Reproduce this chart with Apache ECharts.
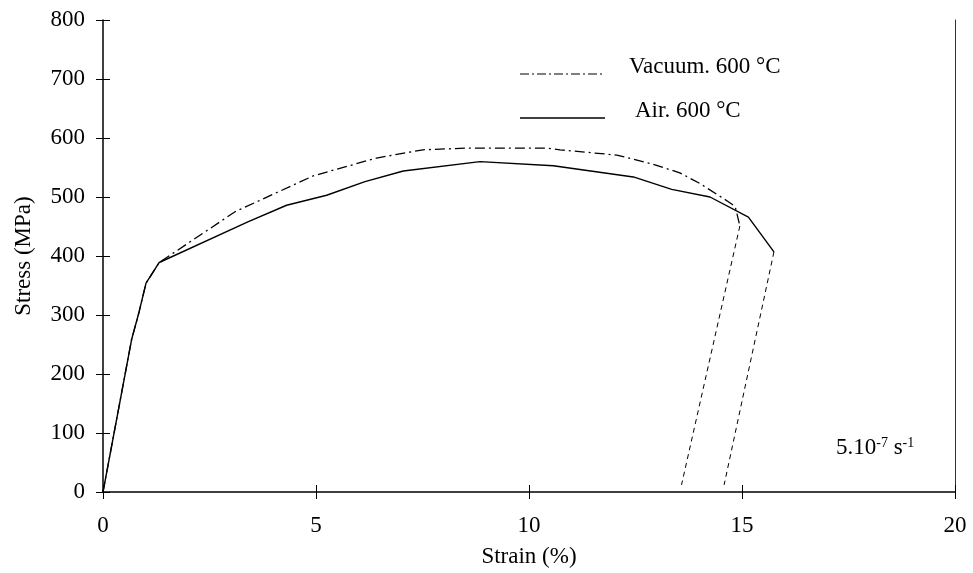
<!DOCTYPE html>
<html>
<head>
<meta charset="utf-8">
<script src="https://cdn.jsdelivr.net/npm/echarts@6/dist/echarts.min.js"></script>
<style>
html,body{margin:0;padding:0;background:#fff;}
#c{width:973px;height:573px;}
</style>
</head>
<body>
<div id="c"></div>
<script>
// Air, 600 °C (solid)
var airStrain = [0, 0.67, 0.85, 1.01, 1.32, 3.4, 4.31, 5.25, 6.15, 7.05, 8.85, 10.57, 12.45, 13.35, 14.25, 15.15, 15.75];
var airStress = [0, 258, 306, 354, 389, 458, 486, 503, 526, 544, 560, 553, 534, 513, 500, 466, 407];
// Vacuum, 600 °C (dash-dot)
var vacStrain = [0, 0.67, 0.85, 1.01, 1.32, 3.1, 4.94, 6.42, 7.51, 8.6, 10.4, 10.73, 12.06, 12.84, 13.54, 14.01, 14.68, 14.84, 14.95];
var vacStress = [0, 258, 306, 354, 389, 475, 536, 566, 580, 583, 583, 580, 571, 557, 541, 523, 492, 484, 451];
// Unloading lines (dashed)
var vacUnloadStrain = [14.95, 13.58];
var vacUnloadStress = [451, 12];
var airUnloadStrain = [15.75, 14.58];
var airUnloadStress = [407, 12];
// Axis ticks
var xTicks = [0, 20, 5];
var yTicks = [0, 800, 100];
var legendNames = ['Vacuum. 600 °C', 'Air. 600 °C'];
var rateLabel = '5.10{sup|-7} s{sup|-1}';

function zip(a, b) { return a.map(function (v, i) { return [v, b[i]]; }); }

var FONT = "'Liberation Serif','Times New Roman',serif";
var chart = echarts.init(document.getElementById('c'));
var tickStyle = { color: '#000', width: 1 };
var baseX = {
  type: 'value', min: xTicks[0], max: xTicks[1], interval: xTicks[2],
  splitLine: { show: false }, position: 'bottom'
};
var baseY = {
  type: 'value', min: yTicks[0], max: yTicks[1], interval: yTicks[2],
  splitLine: { show: false }, position: 'left'
};
chart.setOption({
  animation: false,
  backgroundColor: '#fff',
  grid: { left: 103, right: 18, top: 20, bottom: 81 },
  xAxis: [
    Object.assign({}, baseX, {
      name: 'Strain (%)', nameLocation: 'middle', nameGap: 53,
      nameTextStyle: { fontFamily: FONT, fontSize: 23, color: '#000' },
      axisLine: { show: true, lineStyle: { color: '#000', width: 1.5 } },
      axisTick: { show: true, inside: false, length: 7, lineStyle: tickStyle },
      axisLabel: { fontFamily: FONT, fontSize: 23, color: '#000', margin: 22 }
    }),
    Object.assign({}, baseX, {
      axisLine: { show: false },
      axisTick: { show: true, inside: true, length: 7, lineStyle: tickStyle },
      axisLabel: { show: false }
    })
  ],
  yAxis: [
    Object.assign({}, baseY, {
      name: 'Stress (MPa)', nameLocation: 'middle', nameGap: 68,
      nameTextStyle: { fontFamily: FONT, fontSize: 23, color: '#000' },
      axisLine: { show: true, lineStyle: { color: '#000', width: 1.5 } },
      axisTick: { show: true, inside: false, length: 7, lineStyle: tickStyle },
      axisLabel: { fontFamily: FONT, fontSize: 23, color: '#000', margin: 18 }
    }),
    Object.assign({}, baseY, {
      axisLine: { show: false },
      axisTick: { show: true, inside: true, length: 7, lineStyle: tickStyle },
      axisLabel: { show: false }
    }),
    Object.assign({}, baseY, {
      position: 'right',
      axisLine: { show: true, lineStyle: { color: '#333', width: 1 } },
      axisTick: { show: false },
      axisLabel: { show: false }
    })
  ],
  series: [
    {
      name: legendNames[1], type: 'line', data: zip(airStrain, airStress),
      symbol: 'none', lineStyle: { color: '#000', width: 1.4, type: 'solid' }
    },
    {
      name: legendNames[0], type: 'line', data: zip(vacStrain, vacStress),
      symbol: 'none', lineStyle: { color: '#000', width: 1.3, type: [10, 4, 2, 4] }
    },
    {
      type: 'line', data: zip(vacUnloadStrain, vacUnloadStress),
      symbol: 'none', lineStyle: { color: '#000', width: 1, type: [5, 4] }
    },
    {
      type: 'line', data: zip(airUnloadStrain, airUnloadStress),
      symbol: 'none', lineStyle: { color: '#000', width: 1, type: [5, 4] }
    }
  ],
  graphic: [
    { type: 'line', shape: { x1: 520, y1: 74, x2: 602, y2: 74 },
      style: { stroke: '#000', lineWidth: 1.2, lineDash: [9, 3, 2, 3] } },
    { type: 'text', left: 629, top: 55,
      style: { text: legendNames[0], font: '23px ' + FONT, fill: '#000' } },
    { type: 'line', shape: { x1: 520, y1: 118, x2: 605, y2: 118 },
      style: { stroke: '#000', lineWidth: 1.3 } },
    { type: 'text', left: 635, top: 99,
      style: { text: legendNames[1], font: '23px ' + FONT, fill: '#000' } },
    { type: 'text', left: 836, top: 436,
      style: {
        text: rateLabel, font: '23px ' + FONT, fill: '#000',
        rich: { sup: { fontSize: 14, fontFamily: FONT, verticalAlign: 'top', lineHeight: 15 } }
      } }
  ]
});
</script>
</body>
</html>
